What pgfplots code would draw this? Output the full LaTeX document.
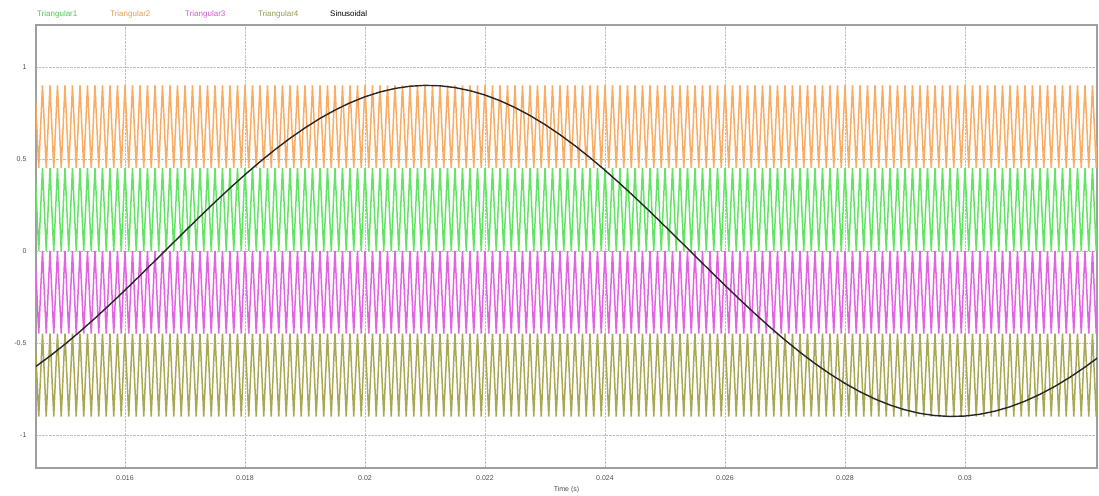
\documentclass[border=0pt]{standalone}
\usepackage{fontspec}
\setmainfont{Liberation Sans}
\usepackage{pgfplots}
\usepackage{pgfplotstable}
\pgfplotsset{compat=1.18}
\definecolor{triA}{RGB}{100,228,100}
\definecolor{triB}{RGB}{250,172,100}
\definecolor{triC}{RGB}{226,100,226}
\definecolor{triD}{RGB}{170,168,84}
\pgfplotstableread{
t a b c d
14.5 0.45 0.9 0 -0.45
14.5625 0 0.45 -0.45 -0.9
14.625 0.45 0.9 0 -0.45
14.6875 0 0.45 -0.45 -0.9
14.75 0.45 0.9 0 -0.45
14.8125 0 0.45 -0.45 -0.9
14.875 0.45 0.9 0 -0.45
14.9375 0 0.45 -0.45 -0.9
15 0.45 0.9 0 -0.45
15.0625 0 0.45 -0.45 -0.9
15.125 0.45 0.9 0 -0.45
15.1875 0 0.45 -0.45 -0.9
15.25 0.45 0.9 0 -0.45
15.3125 0 0.45 -0.45 -0.9
15.375 0.45 0.9 0 -0.45
15.4375 0 0.45 -0.45 -0.9
15.5 0.45 0.9 0 -0.45
15.5625 0 0.45 -0.45 -0.9
15.625 0.45 0.9 0 -0.45
15.6875 0 0.45 -0.45 -0.9
15.75 0.45 0.9 0 -0.45
15.8125 0 0.45 -0.45 -0.9
15.875 0.45 0.9 0 -0.45
15.9375 0 0.45 -0.45 -0.9
16 0.45 0.9 0 -0.45
16.0625 0 0.45 -0.45 -0.9
16.125 0.45 0.9 0 -0.45
16.1875 0 0.45 -0.45 -0.9
16.25 0.45 0.9 0 -0.45
16.3125 0 0.45 -0.45 -0.9
16.375 0.45 0.9 0 -0.45
16.4375 0 0.45 -0.45 -0.9
16.5 0.45 0.9 0 -0.45
16.5625 0 0.45 -0.45 -0.9
16.625 0.45 0.9 0 -0.45
16.6875 0 0.45 -0.45 -0.9
16.75 0.45 0.9 0 -0.45
16.8125 0 0.45 -0.45 -0.9
16.875 0.45 0.9 0 -0.45
16.9375 0 0.45 -0.45 -0.9
17 0.45 0.9 0 -0.45
17.0625 0 0.45 -0.45 -0.9
17.125 0.45 0.9 0 -0.45
17.1875 0 0.45 -0.45 -0.9
17.25 0.45 0.9 0 -0.45
17.3125 0 0.45 -0.45 -0.9
17.375 0.45 0.9 0 -0.45
17.4375 0 0.45 -0.45 -0.9
17.5 0.45 0.9 0 -0.45
17.5625 0 0.45 -0.45 -0.9
17.625 0.45 0.9 0 -0.45
17.6875 0 0.45 -0.45 -0.9
17.75 0.45 0.9 0 -0.45
17.8125 0 0.45 -0.45 -0.9
17.875 0.45 0.9 0 -0.45
17.9375 0 0.45 -0.45 -0.9
18 0.45 0.9 0 -0.45
18.0625 0 0.45 -0.45 -0.9
18.125 0.45 0.9 0 -0.45
18.1875 0 0.45 -0.45 -0.9
18.25 0.45 0.9 0 -0.45
18.3125 0 0.45 -0.45 -0.9
18.375 0.45 0.9 0 -0.45
18.4375 0 0.45 -0.45 -0.9
18.5 0.45 0.9 0 -0.45
18.5625 0 0.45 -0.45 -0.9
18.625 0.45 0.9 0 -0.45
18.6875 0 0.45 -0.45 -0.9
18.75 0.45 0.9 0 -0.45
18.8125 0 0.45 -0.45 -0.9
18.875 0.45 0.9 0 -0.45
18.9375 0 0.45 -0.45 -0.9
19 0.45 0.9 0 -0.45
19.0625 0 0.45 -0.45 -0.9
19.125 0.45 0.9 0 -0.45
19.1875 0 0.45 -0.45 -0.9
19.25 0.45 0.9 0 -0.45
19.3125 0 0.45 -0.45 -0.9
19.375 0.45 0.9 0 -0.45
19.4375 0 0.45 -0.45 -0.9
19.5 0.45 0.9 0 -0.45
19.5625 0 0.45 -0.45 -0.9
19.625 0.45 0.9 0 -0.45
19.6875 0 0.45 -0.45 -0.9
19.75 0.45 0.9 0 -0.45
19.8125 0 0.45 -0.45 -0.9
19.875 0.45 0.9 0 -0.45
19.9375 0 0.45 -0.45 -0.9
20 0.45 0.9 0 -0.45
20.0625 0 0.45 -0.45 -0.9
20.125 0.45 0.9 0 -0.45
20.1875 0 0.45 -0.45 -0.9
20.25 0.45 0.9 0 -0.45
20.3125 0 0.45 -0.45 -0.9
20.375 0.45 0.9 0 -0.45
20.4375 0 0.45 -0.45 -0.9
20.5 0.45 0.9 0 -0.45
20.5625 0 0.45 -0.45 -0.9
20.625 0.45 0.9 0 -0.45
20.6875 0 0.45 -0.45 -0.9
20.75 0.45 0.9 0 -0.45
20.8125 0 0.45 -0.45 -0.9
20.875 0.45 0.9 0 -0.45
20.9375 0 0.45 -0.45 -0.9
21 0.45 0.9 0 -0.45
21.0625 0 0.45 -0.45 -0.9
21.125 0.45 0.9 0 -0.45
21.1875 0 0.45 -0.45 -0.9
21.25 0.45 0.9 0 -0.45
21.3125 0 0.45 -0.45 -0.9
21.375 0.45 0.9 0 -0.45
21.4375 0 0.45 -0.45 -0.9
21.5 0.45 0.9 0 -0.45
21.5625 0 0.45 -0.45 -0.9
21.625 0.45 0.9 0 -0.45
21.6875 0 0.45 -0.45 -0.9
21.75 0.45 0.9 0 -0.45
21.8125 0 0.45 -0.45 -0.9
21.875 0.45 0.9 0 -0.45
21.9375 0 0.45 -0.45 -0.9
22 0.45 0.9 0 -0.45
22.0625 0 0.45 -0.45 -0.9
22.125 0.45 0.9 0 -0.45
22.1875 0 0.45 -0.45 -0.9
22.25 0.45 0.9 0 -0.45
22.3125 0 0.45 -0.45 -0.9
22.375 0.45 0.9 0 -0.45
22.4375 0 0.45 -0.45 -0.9
22.5 0.45 0.9 0 -0.45
22.5625 0 0.45 -0.45 -0.9
22.625 0.45 0.9 0 -0.45
22.6875 0 0.45 -0.45 -0.9
22.75 0.45 0.9 0 -0.45
22.8125 0 0.45 -0.45 -0.9
22.875 0.45 0.9 0 -0.45
22.9375 0 0.45 -0.45 -0.9
23 0.45 0.9 0 -0.45
23.0625 0 0.45 -0.45 -0.9
23.125 0.45 0.9 0 -0.45
23.1875 0 0.45 -0.45 -0.9
23.25 0.45 0.9 0 -0.45
23.3125 0 0.45 -0.45 -0.9
23.375 0.45 0.9 0 -0.45
23.4375 0 0.45 -0.45 -0.9
23.5 0.45 0.9 0 -0.45
23.5625 0 0.45 -0.45 -0.9
23.625 0.45 0.9 0 -0.45
23.6875 0 0.45 -0.45 -0.9
23.75 0.45 0.9 0 -0.45
23.8125 0 0.45 -0.45 -0.9
23.875 0.45 0.9 0 -0.45
23.9375 0 0.45 -0.45 -0.9
24 0.45 0.9 0 -0.45
24.0625 0 0.45 -0.45 -0.9
24.125 0.45 0.9 0 -0.45
24.1875 0 0.45 -0.45 -0.9
24.25 0.45 0.9 0 -0.45
24.3125 0 0.45 -0.45 -0.9
24.375 0.45 0.9 0 -0.45
24.4375 0 0.45 -0.45 -0.9
24.5 0.45 0.9 0 -0.45
24.5625 0 0.45 -0.45 -0.9
24.625 0.45 0.9 0 -0.45
24.6875 0 0.45 -0.45 -0.9
24.75 0.45 0.9 0 -0.45
24.8125 0 0.45 -0.45 -0.9
24.875 0.45 0.9 0 -0.45
24.9375 0 0.45 -0.45 -0.9
25 0.45 0.9 0 -0.45
25.0625 0 0.45 -0.45 -0.9
25.125 0.45 0.9 0 -0.45
25.1875 0 0.45 -0.45 -0.9
25.25 0.45 0.9 0 -0.45
25.3125 0 0.45 -0.45 -0.9
25.375 0.45 0.9 0 -0.45
25.4375 0 0.45 -0.45 -0.9
25.5 0.45 0.9 0 -0.45
25.5625 0 0.45 -0.45 -0.9
25.625 0.45 0.9 0 -0.45
25.6875 0 0.45 -0.45 -0.9
25.75 0.45 0.9 0 -0.45
25.8125 0 0.45 -0.45 -0.9
25.875 0.45 0.9 0 -0.45
25.9375 0 0.45 -0.45 -0.9
26 0.45 0.9 0 -0.45
26.0625 0 0.45 -0.45 -0.9
26.125 0.45 0.9 0 -0.45
26.1875 0 0.45 -0.45 -0.9
26.25 0.45 0.9 0 -0.45
26.3125 0 0.45 -0.45 -0.9
26.375 0.45 0.9 0 -0.45
26.4375 0 0.45 -0.45 -0.9
26.5 0.45 0.9 0 -0.45
26.5625 0 0.45 -0.45 -0.9
26.625 0.45 0.9 0 -0.45
26.6875 0 0.45 -0.45 -0.9
26.75 0.45 0.9 0 -0.45
26.8125 0 0.45 -0.45 -0.9
26.875 0.45 0.9 0 -0.45
26.9375 0 0.45 -0.45 -0.9
27 0.45 0.9 0 -0.45
27.0625 0 0.45 -0.45 -0.9
27.125 0.45 0.9 0 -0.45
27.1875 0 0.45 -0.45 -0.9
27.25 0.45 0.9 0 -0.45
27.3125 0 0.45 -0.45 -0.9
27.375 0.45 0.9 0 -0.45
27.4375 0 0.45 -0.45 -0.9
27.5 0.45 0.9 0 -0.45
27.5625 0 0.45 -0.45 -0.9
27.625 0.45 0.9 0 -0.45
27.6875 0 0.45 -0.45 -0.9
27.75 0.45 0.9 0 -0.45
27.8125 0 0.45 -0.45 -0.9
27.875 0.45 0.9 0 -0.45
27.9375 0 0.45 -0.45 -0.9
28 0.45 0.9 0 -0.45
28.0625 0 0.45 -0.45 -0.9
28.125 0.45 0.9 0 -0.45
28.1875 0 0.45 -0.45 -0.9
28.25 0.45 0.9 0 -0.45
28.3125 0 0.45 -0.45 -0.9
28.375 0.45 0.9 0 -0.45
28.4375 0 0.45 -0.45 -0.9
28.5 0.45 0.9 0 -0.45
28.5625 0 0.45 -0.45 -0.9
28.625 0.45 0.9 0 -0.45
28.6875 0 0.45 -0.45 -0.9
28.75 0.45 0.9 0 -0.45
28.8125 0 0.45 -0.45 -0.9
28.875 0.45 0.9 0 -0.45
28.9375 0 0.45 -0.45 -0.9
29 0.45 0.9 0 -0.45
29.0625 0 0.45 -0.45 -0.9
29.125 0.45 0.9 0 -0.45
29.1875 0 0.45 -0.45 -0.9
29.25 0.45 0.9 0 -0.45
29.3125 0 0.45 -0.45 -0.9
29.375 0.45 0.9 0 -0.45
29.4375 0 0.45 -0.45 -0.9
29.5 0.45 0.9 0 -0.45
29.5625 0 0.45 -0.45 -0.9
29.625 0.45 0.9 0 -0.45
29.6875 0 0.45 -0.45 -0.9
29.75 0.45 0.9 0 -0.45
29.8125 0 0.45 -0.45 -0.9
29.875 0.45 0.9 0 -0.45
29.9375 0 0.45 -0.45 -0.9
30 0.45 0.9 0 -0.45
30.0625 0 0.45 -0.45 -0.9
30.125 0.45 0.9 0 -0.45
30.1875 0 0.45 -0.45 -0.9
30.25 0.45 0.9 0 -0.45
30.3125 0 0.45 -0.45 -0.9
30.375 0.45 0.9 0 -0.45
30.4375 0 0.45 -0.45 -0.9
30.5 0.45 0.9 0 -0.45
30.5625 0 0.45 -0.45 -0.9
30.625 0.45 0.9 0 -0.45
30.6875 0 0.45 -0.45 -0.9
30.75 0.45 0.9 0 -0.45
30.8125 0 0.45 -0.45 -0.9
30.875 0.45 0.9 0 -0.45
30.9375 0 0.45 -0.45 -0.9
31 0.45 0.9 0 -0.45
31.0625 0 0.45 -0.45 -0.9
31.125 0.45 0.9 0 -0.45
31.1875 0 0.45 -0.45 -0.9
31.25 0.45 0.9 0 -0.45
31.3125 0 0.45 -0.45 -0.9
31.375 0.45 0.9 0 -0.45
31.4375 0 0.45 -0.45 -0.9
31.5 0.45 0.9 0 -0.45
31.5625 0 0.45 -0.45 -0.9
31.625 0.45 0.9 0 -0.45
31.6875 0 0.45 -0.45 -0.9
31.75 0.45 0.9 0 -0.45
31.8125 0 0.45 -0.45 -0.9
31.875 0.45 0.9 0 -0.45
31.9375 0 0.45 -0.45 -0.9
32 0.45 0.9 0 -0.45
32.0625 0 0.45 -0.45 -0.9
32.125 0.45 0.9 0 -0.45
32.1875 0 0.45 -0.45 -0.9
32.25 0.45 0.9 0 -0.45
}\tri
\pgfplotstableread{
t s
14.5 -0.6316
14.75 -0.5717
15.0 -0.5071
15.25 -0.4383
15.5 -0.3660
15.75 -0.2910
16.0 -0.2134
16.25 -0.1341
16.5 -0.0538
16.75 0.0269
17.0 0.1075
17.25 0.1871
17.5 0.2653
17.75 0.3413
18.0 0.4146
18.25 0.4845
18.5 0.5505
18.75 0.6122
19.0 0.6688
19.25 0.7202
19.5 0.7656
19.75 0.8050
20.0 0.8378
20.25 0.8639
20.5 0.8831
20.75 0.8951
21.0 0.8999
21.25 0.8975
21.5 0.8878
21.75 0.8710
22.0 0.8473
22.25 0.8166
22.5 0.7794
22.75 0.7360
23.0 0.6867
23.25 0.6316
23.5 0.5717
23.75 0.5071
24.0 0.4383
24.25 0.3660
24.5 0.2910
24.75 0.2134
25.0 0.1341
25.25 0.0538
25.5 -0.0269
25.75 -0.1075
26.0 -0.1871
26.25 -0.2653
26.5 -0.3413
26.75 -0.4146
27.0 -0.4845
27.25 -0.5505
27.5 -0.6122
27.75 -0.6688
28.0 -0.7202
28.25 -0.7656
28.5 -0.8050
28.75 -0.8378
29.0 -0.8639
29.25 -0.8831
29.5 -0.8951
29.75 -0.8999
30.0 -0.8975
30.25 -0.8878
30.5 -0.8710
30.75 -0.8473
31.0 -0.8166
31.25 -0.7794
31.5 -0.7360
31.75 -0.6867
32.0 -0.6316
32.25 -0.5717
}\sine
\begin{document}
\begin{tikzpicture}
\begin{axis}[
  scale only axis, width=1061pt, height=443pt,
  xmin=14.517, xmax=32.2, ymin=-1.18, ymax=1.228,
  xtick={16,18,20,22,24,26,28,30},
  xticklabels={0.016,0.018,0.02,0.022,0.024,0.026,0.028,0.03},
  ytick={-1,-0.5,0,0.5,1},
  yticklabels={-1,-0.5,0,0.5,1},
  grid=major, grid style={densely dotted, gray!50, line width=0.7pt},
  major tick length=0pt,
  axis line style={gray!75, line width=1.2pt},
  tick label style={font=\fontsize{7}{8}\selectfont, text=black!70},
  xticklabel style={yshift=-4pt},
  yticklabel style={xshift=-6pt},
  xlabel={Time (s)},
  xlabel style={font=\fontsize{7}{8}\selectfont, text=black!70, at={(axis description cs:0.5,0)}, anchor=center, yshift=-22pt},
  clip=true,
]
\addplot[triA, line width=1.5pt, line join=miter] table[x=t, y=a] {\tri};
\addplot[triB, line width=1.5pt, line join=miter] table[x=t, y=b] {\tri};
\addplot[triC, line width=1.5pt, line join=miter] table[x=t, y=c] {\tri};
\addplot[triD, line width=1.5pt, line join=miter] table[x=t, y=d] {\tri};
\addplot[black!85, line width=1.4pt] table[x=t, y=s] {\sine};
\end{axis}
\begin{scope}[every node/.style={font=\fontsize{8}{9}\selectfont, anchor=west, inner sep=0pt}]
\node[text=triA!85!black] at (1pt,454pt) {Triangular1};
\node[text=triB!90!black] at (74pt,454pt) {Triangular2};
\node[text=triC!90!black] at (149pt,454pt) {Triangular3};
\node[text=triD!90!black] at (222pt,454pt) {Triangular4};
\node[text=black] at (294pt,454pt) {Sinusoidal};
\end{scope}
\pgfresetboundingbox
\path[use as bounding box] (-36pt,-27pt) rectangle (1063pt,468pt);
\end{tikzpicture}
\end{document}
